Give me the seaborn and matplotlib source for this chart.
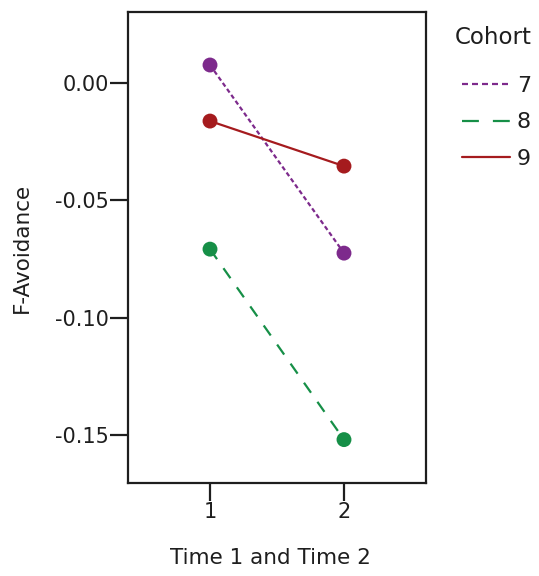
import matplotlib
matplotlib.use("Agg")
import matplotlib.pyplot as plt
from matplotlib.lines import Line2D
import numpy as np
import pandas as pd
import seaborn as sns

# Estimated marginal means of F-Avoidance by cohort and time
times = [1, 2]
cohorts = ["7", "8", "9"]
cohort7 = [0.0077, -0.0725]
cohort8 = [-0.0708, -0.1520]
cohort9 = [-0.0162, -0.0354]
yticks = [0.00, -0.05, -0.10, -0.15]

colors = {"7": "#7D2A8C", "8": "#168F47", "9": "#A51B1E"}
dash_styles = {"7": (2.0, 1.3), "8": (5.5, 5.0), "9": ""}
legend_dashes = {"7": (2.7, 1.8), "8": (7.6, 6.3), "9": None}
ink = "#1E1E1E"

df = pd.DataFrame({
    "Time": times * 3,
    "Cohort": [c for c in cohorts for _ in times],
    "F-Avoidance": cohort7 + cohort8 + cohort9,
})

sns.set_theme(style="white")
plt.rcParams["font.family"] = ["DejaVu Sans"]

W, H = 539, 576
fig = plt.figure(figsize=(W / 100, H / 100), dpi=100)
ax = fig.add_axes([128 / W, 1 - 483 / H, (426 - 128) / W, (483 - 12) / H])

sns.lineplot(data=df, x="Time", y="F-Avoidance", hue="Cohort", style="Cohort",
             palette=colors, dashes=dash_styles, linewidth=1.6, legend=False, ax=ax)
sns.scatterplot(data=df, x="Time", y="F-Avoidance", hue="Cohort", palette=colors,
                s=115, edgecolor="none", legend=False, ax=ax, zorder=3)

ax.set_xlim(0.388, 2.612)
ax.set_ylim(-0.1705, 0.0303)
ax.set_xticks(times)
ax.set_xticklabels([str(t) for t in times])
ax.set_yticks(yticks)
ax.set_yticklabels([f"{v:.2f}" for v in yticks])

for side in ["top", "right", "left", "bottom"]:
    ax.spines[side].set_visible(True)
    ax.spines[side].set_color(ink)
    ax.spines[side].set_linewidth(1.6)

ax.tick_params(axis="both", direction="out", length=13, width=1.6, color=ink,
               labelsize=15, labelcolor=ink, pad=1, left=True, bottom=True)

ax.set_xlabel("Time 1 and Time 2", fontsize=15.5, color=ink)
ax.set_ylabel("F-Avoidance", fontsize=15.5, color=ink)
ax.xaxis.set_label_coords((270 - 128) / 298, -(548 - 483) / 471)
ax.yaxis.set_label_coords(-(128 - 32) / 298, 0.5)

# Legend: title placed on its own, entries below it
fig.text(455 / W, 1 - 38 / H, "Cohort", fontsize=16.5, color=ink, ha="left", va="center")
handles = [Line2D([0], [0], color=colors[c], linewidth=1.6,
                  linestyle=(0, legend_dashes[c]) if legend_dashes[c] else "-")
           for c in cohorts]
leg = fig.legend(handles, cohorts, loc="upper left",
                 bbox_to_anchor=(462 / W, 1 - 76 / H), frameon=False, fontsize=16,
                 handlelength=2.16, handletextpad=0.3, labelspacing=0.74,
                 borderpad=0, borderaxespad=0)
for t in leg.get_texts():
    t.set_color(ink)

fig.savefig("out.png", dpi=100, facecolor="white")
